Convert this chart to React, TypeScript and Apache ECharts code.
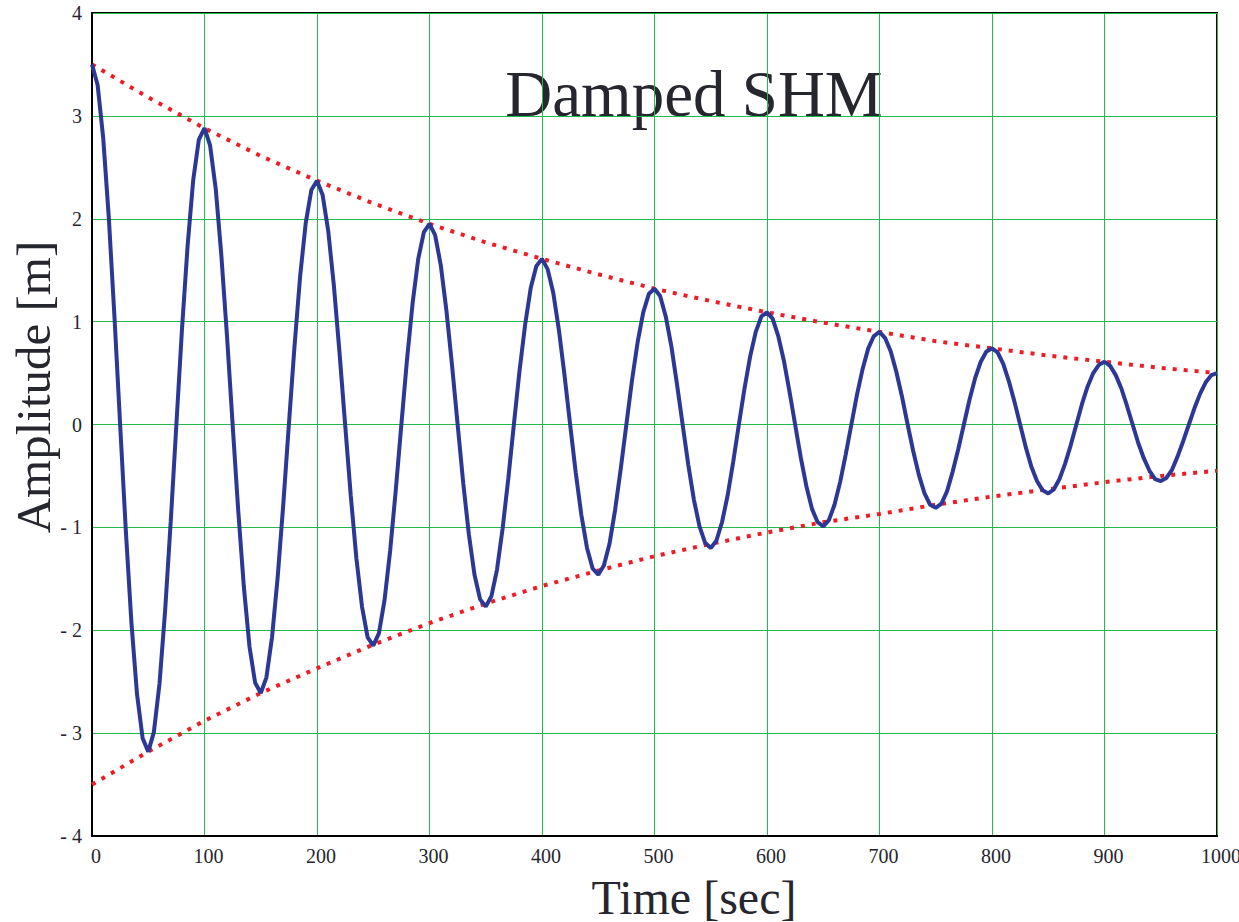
import React, { useEffect, useRef } from "react";
import * as echarts from "echarts";

// Time samples every 5 s (0..1000)
const timeStep = 5;
// Displacement values (m), one per 5 s
const amplitude: number[] = [
  3.50, 3.30, 2.78, 2.00, 1.04, 0, -1.02, -1.92, -2.62, -3.05,
  -3.18, -2.99, -2.52, -1.81, -0.94, 0, 0.93, 1.74, 2.38, 2.77,
  2.88, 2.71, 2.29, 1.64, 0.86, 0, -0.84, -1.58, -2.16, -2.51,
  -2.61, -2.46, -2.07, -1.49, -0.78, 0, 0.76, 1.44, 1.96, 2.28,
  2.37, 2.23, 1.88, 1.35, 0.70, 0, -0.69, -1.30, -1.77, -2.07,
  -2.15, -2.03, -1.71, -1.23, -0.64, 0, 0.63, 1.18, 1.61, 1.87,
  1.95, 1.84, 1.55, 1.11, 0.58, 0, -0.57, -1.07, -1.46, -1.70,
  -1.77, -1.67, -1.41, -1.01, -0.53, 0, 0.52, 0.97, 1.33, 1.54,
  1.61, 1.51, 1.28, 0.92, 0.48, 0, -0.47, -0.88, -1.20, -1.40,
  -1.46, -1.37, -1.16, -0.83, -0.43, 0, 0.43, 0.80, 1.09, 1.27,
  1.32, 1.25, 1.05, 0.76, 0.39, 0, -0.39, -0.73, -0.99, -1.15,
  -1.20, -1.13, -0.95, -0.69, -0.36, 0, 0.35, 0.66, 0.90, 1.05,
  1.09, 1.03, 0.86, 0.62, 0.32, 0, -0.32, -0.60, -0.82, -0.95,
  -0.99, -0.93, -0.78, -0.56, -0.29, 0, 0.29, 0.54, 0.74, 0.86,
  0.90, 0.84, 0.71, 0.51, 0.27, 0, -0.26, -0.49, -0.67, -0.78,
  -0.81, -0.77, -0.65, -0.46, -0.24, 0, 0.24, 0.45, 0.61, 0.71,
  0.74, 0.70, 0.59, 0.42, 0.22, 0, -0.22, -0.41, -0.55, -0.64,
  -0.67, -0.63, -0.53, -0.38, -0.20, 0, 0.20, 0.37, 0.50, 0.58,
  0.61, 0.57, 0.48, 0.35, 0.18, 0, -0.18, -0.33, -0.45, -0.53,
  -0.55, -0.52, -0.44, -0.31, -0.16, 0, 0.16, 0.30, 0.41, 0.48,
  0.50,
];

// Envelope values every 50 s
const envelopeStep = 50;
const upperEnvelope: number[] = [
  3.5, 3.18, 2.88, 2.61, 2.37, 2.15, 1.95, 1.77, 1.61, 1.46, 1.32,
  1.20, 1.09, 0.99, 0.90, 0.81, 0.74, 0.67, 0.61, 0.55, 0.50,
];
const lowerEnvelope: number[] = [
  -3.5, -3.18, -2.88, -2.61, -2.37, -2.14, -1.93, -1.74, -1.57, -1.42, -1.28,
  -1.16, -1.05, -0.95, -0.87, -0.78, -0.70, -0.63, -0.56, -0.50, -0.45,
];

const titleText = "Damped SHM";
const xName = "Time [sec]";
const yName = "Amplitude [m]";

const SERIF = "'Liberation Serif', 'Times New Roman', 'DejaVu Serif', serif";
const TEXT = "#26262f";
const GREEN = "#22b84c";

export default function App() {
  const ref = useRef<HTMLDivElement>(null);

  useEffect(() => {
    if (!ref.current) return;
    const chart = echarts.init(ref.current, undefined, { renderer: "svg" });

    const curve = amplitude.map((v, i) => [i * timeStep, v]);
    const up = upperEnvelope.map((v, i) => [i * envelopeStep, v]);
    const lo = lowerEnvelope.map((v, i) => [i * envelopeStep, v]);

    chart.setOption({
      animation: false,
      backgroundColor: "#ffffff",
      grid: {
        left: 92,
        right: 22,
        top: 13,
        bottom: 86,
        containLabel: false,
        outerBoundsMode: "none",
        show: true,
        borderColor: "#000",
        borderWidth: 2,
        backgroundColor: "transparent",
      },
      xAxis: {
        type: "value",
        min: 0,
        max: 1000,
        interval: 100,
        axisLine: { show: true, onZero: false, lineStyle: { color: "#000", width: 2 } },
        axisTick: { show: false },
        axisLabel: {
          fontFamily: SERIF,
          fontSize: 20,
          color: TEXT,
          margin: 10,
          padding: [0, 0, 0, 8],
          formatter: (v: number) => String(v),
        },
        splitLine: { show: true, lineStyle: { color: GREEN, width: 1 } },
      },
      yAxis: {
        type: "value",
        min: -4,
        max: 4,
        interval: 1,
        axisLine: { show: true, onZero: false, lineStyle: { color: "#000", width: 2 } },
        axisTick: { show: false },
        axisLabel: {
          fontFamily: SERIF,
          fontSize: 20,
          color: TEXT,
          margin: 10,
          formatter: (v: number) => (v < 0 ? "- " + Math.abs(v) : String(v)),
        },
        splitLine: { show: true, lineStyle: { color: GREEN, width: 1 } },
      },
      graphic: [
        {
          type: "group",
          z: 100,
          children: [
            {
              type: "rect",
              shape: { x: 497, y: 55, width: 390, height: 75 },
              style: { fill: "#fff" },
            },
            {
              type: "text",
              x: 694,
              y: 94,
              style: {
                text: titleText,
                fontFamily: SERIF,
                fontSize: 65,
                fill: TEXT,
                align: "center",
                verticalAlign: "middle",
              },
            },
          ],
        },
        {
          type: "text",
          x: 694,
          y: 897,
          z: 100,
          style: {
            text: xName,
            fontFamily: SERIF,
            fontSize: 48,
            fill: TEXT,
            align: "center",
            verticalAlign: "middle",
          },
        },
        {
          type: "text",
          x: 33,
          y: 387,
          rotation: Math.PI / 2,
          z: 100,
          style: {
            text: yName,
            fontFamily: SERIF,
            fontSize: 49,
            fill: TEXT,
            align: "center",
            verticalAlign: "middle",
          },
        },
      ],
      series: [
        {
          type: "line",
          data: up,
          showSymbol: false,
          lineStyle: { color: "#ee1c25", width: 4, type: [4, 7] },
          z: 3,
        },
        {
          type: "line",
          data: lo,
          showSymbol: false,
          lineStyle: { color: "#ee1c25", width: 4, type: [4, 7] },
          z: 3,
        },
        {
          type: "line",
          data: curve,
          showSymbol: false,
          lineStyle: { color: "#2b3896", width: 4 },
          z: 4,
        },
      ],
    });

    return () => chart.dispose();
  }, []);

  return (
    <div
      ref={ref}
      style={{ position: "fixed", left: 0, top: 0, width: 1239, height: 922 }}
    />
  );
}
